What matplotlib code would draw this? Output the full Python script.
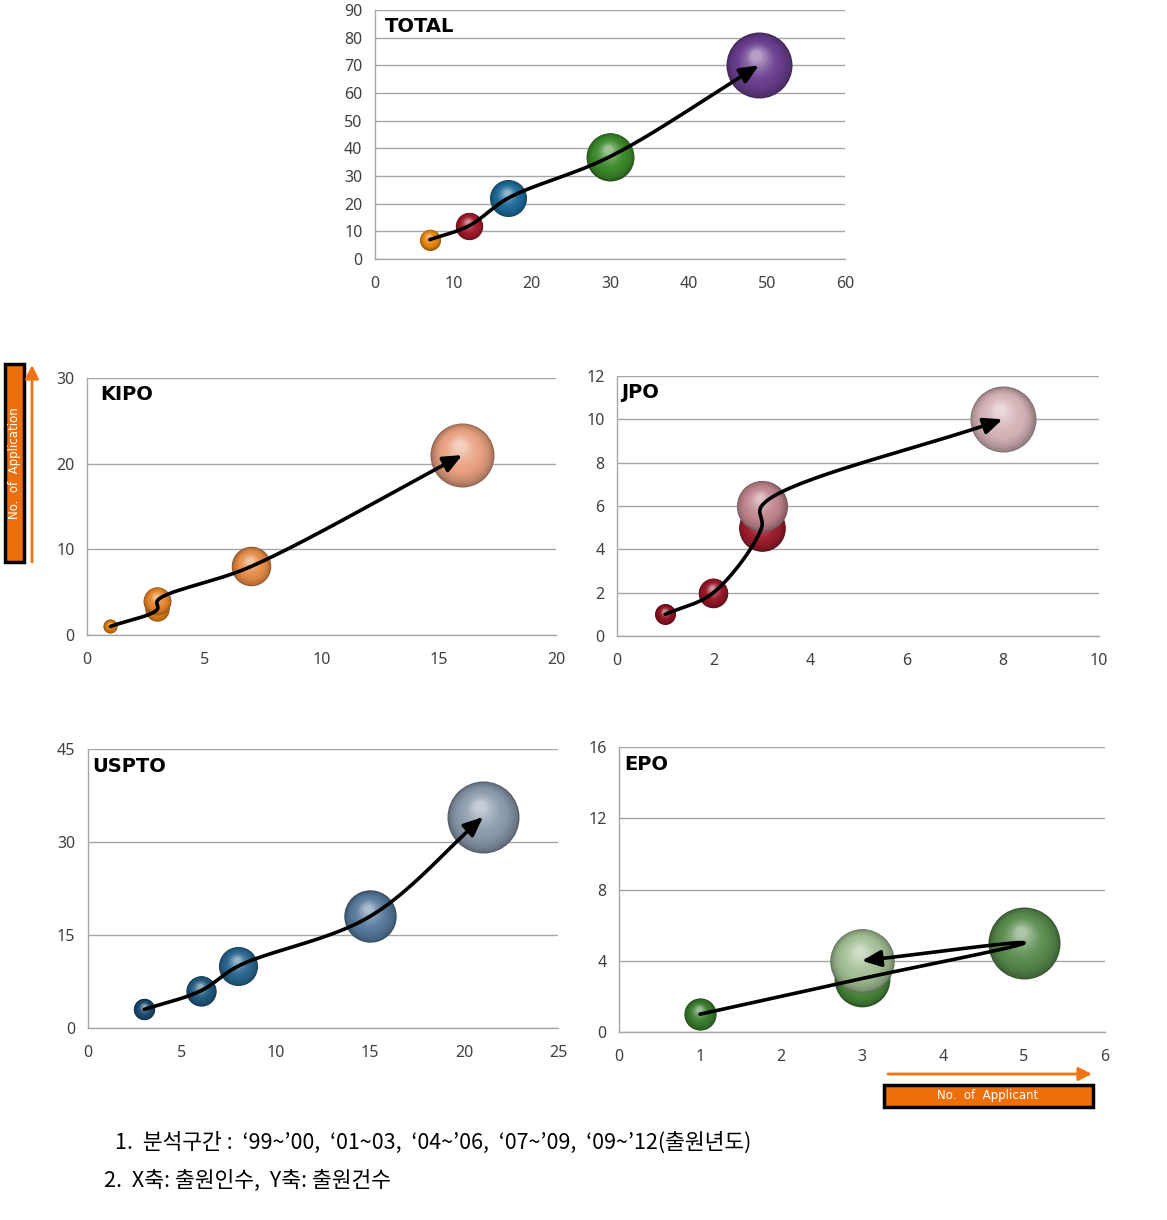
import numpy as np
import matplotlib
matplotlib.use("Agg")
import matplotlib.pyplot as plt
from matplotlib.colors import to_rgb
from matplotlib.transforms import offset_copy
from matplotlib.patches import FancyArrowPatch, Rectangle
from matplotlib.path import Path

plt.rcParams['font.family'] = ['Noto Sans CJK KR', 'DejaVu Sans']

# ---------------- data ----------------
total_x = [7, 12, 17, 30, 49]
total_y = [7, 12, 22, 37, 70]
total_colors = ['#E8860C', '#A31A2C', '#1E6A98', '#3D8A2C', '#6B3F8F']

kipo_x = [1, 3, 3, 7, 16]
kipo_y = [1, 3, 4, 8, 21]
kipo_colors = ['#D2760C', '#DC7C14', '#E4842A', '#E48C48', '#E8A080']

jpo_x = [1, 2, 3, 3, 8]
jpo_y = [1, 2, 5, 6, 10]
jpo_colors = ['#8E1020', '#961828', '#9E1E2E', '#C0868E', '#D4B2B6']

uspto_x = [3, 6, 8, 15, 21]
uspto_y = [3, 6, 10, 18, 34]
uspto_colors = ['#1A4A6C', '#225A80', '#2A6690', '#587A9C', '#8A9AAC']

epo_x = [1, 3, 5, 3]
epo_y = [1, 3, 5, 4]
epo_colors = ['#3A7A2E', '#4A8A3C', '#5A8C4E', '#A2BE94']

W, H = 1167, 1220
fig = plt.figure(figsize=(W / 100, H / 100), dpi=100)


def px_axes(l, r, t, b):
    return fig.add_axes([l / W, 1 - b / H, (r - l) / W, (b - t) / H])


def sphere(ax, x, y, R, color, z):
    base = np.array(to_rgb(color))
    dark = base * 0.6
    light = base + (1 - base) * 0.5
    N = 30
    for k in range(N):
        t = k / (N - 1)
        r = R * (1 - 0.85 * t)
        dx = -0.08 * R * t
        dy = 0.30 * R * t
        if t < 0.4:
            c = dark + (base - dark) * (t / 0.4) ** 0.5
        else:
            u = (t - 0.4) / 0.6
            c = base + (light - base) * u ** 1.5
        tr = offset_copy(ax.transData, fig=fig, x=dx, y=dy, units='points')
        ax.scatter([x], [y], s=(2 * r) ** 2, color=np.clip(c, 0, 1),
                   transform=tr, zorder=z + k * 0.001, linewidths=0,
                   clip_on=False)


def curve(ax, xs, ys):
    pts = ax.transData.transform(np.column_stack([xs, ys]).astype(float))
    P = np.vstack([2 * pts[0] - pts[1], pts, 2 * pts[-1] - pts[-2]])
    out = []
    alpha = 0.5
    for i in range(1, len(P) - 2):
        p0, p1, p2, p3 = P[i - 1], P[i], P[i + 1], P[i + 2]
        t0 = 0.0
        t1 = t0 + max(np.linalg.norm(p1 - p0), 1e-3) ** alpha
        t2 = t1 + max(np.linalg.norm(p2 - p1), 1e-3) ** alpha
        t3 = t2 + max(np.linalg.norm(p3 - p2), 1e-3) ** alpha
        for t in np.linspace(t1, t2, 40, endpoint=False):
            A1 = (t1 - t) / (t1 - t0) * p0 + (t - t0) / (t1 - t0) * p1
            A2 = (t2 - t) / (t2 - t1) * p1 + (t - t1) / (t2 - t1) * p2
            A3 = (t3 - t) / (t3 - t2) * p2 + (t - t2) / (t3 - t2) * p3
            B1 = (t2 - t) / (t2 - t0) * A1 + (t - t0) / (t2 - t0) * A2
            B2 = (t3 - t) / (t3 - t1) * A2 + (t - t1) / (t3 - t1) * A3
            C = (t2 - t) / (t2 - t1) * B1 + (t - t1) / (t2 - t1) * B2
            out.append(C)
    out.append(pts[-1])
    data = ax.transData.inverted().transform(np.array(out))
    arr = FancyArrowPatch(path=Path(data), arrowstyle='-|>,head_length=0.8,head_width=0.35',
                          mutation_scale=14, lw=2.6, color='black',
                          shrinkA=0, shrinkB=0, zorder=50)
    ax.add_patch(arr)


def panel(box, xs, ys, colors, xmax, xstep, ymax, ystep, title, Rmax, title_off):
    l, r, t, b = box
    ax = px_axes(l, r, t, b)
    ax.set_xlim(0, xmax)
    ax.set_ylim(0, ymax)
    ax.set_xticks(np.arange(0, xmax + 1e-9, xstep))
    ax.set_yticks(np.arange(0, ymax + 1e-9, ystep))
    ax.yaxis.grid(True, color='#A6A6A6', lw=1)
    ax.set_axisbelow(True)
    for s in ['top', 'right']:
        ax.spines[s].set_visible(False)
    for s in ['left', 'bottom']:
        ax.spines[s].set_color('#A6A6A6')
        ax.spines[s].set_linewidth(1)
    ax.tick_params(length=0, labelsize=11.5, colors='#404040')
    ax.tick_params(axis='y', pad=9)
    ax.tick_params(axis='x', pad=12.5)
    for lab in ax.get_xticklabels() + ax.get_yticklabels():
        lab.set_family(['Noto Sans', 'DejaVu Sans'])
    vmax = max(ys)
    Rpt = Rmax * 72 / 100
    for i, (x, y, c) in enumerate(zip(xs, ys, colors)):
        sphere(ax, x, y, Rpt * np.sqrt(y / vmax), c, 10 + i)
    curve(ax, xs, ys)
    ax.text(title_off[0] / (r - l), 1 - title_off[1] / (b - t), title,
            transform=ax.transAxes, fontsize=14, fontweight='bold',
            ha='left', va='center', color='black', zorder=60,
            family=['DejaVu Sans'])
    return ax


panel((375, 845, 10, 259), total_x, total_y, total_colors, 60, 10, 90, 10, 'TOTAL', 33, (10, 17))
panel((87, 556, 378, 635), kipo_x, kipo_y, kipo_colors, 20, 5, 30, 10, 'KIPO', 32, (13, 17))
panel((617, 1099, 376, 636), jpo_x, jpo_y, jpo_colors, 10, 2, 12, 2, 'JPO', 33, (4, 17))
panel((88, 558, 749, 1028), uspto_x, uspto_y, uspto_colors, 25, 5, 45, 15, 'USPTO', 36, (4, 17))
panel((619, 1105, 747, 1032), epo_x, epo_y, epo_colors, 6, 1, 16, 4, 'EPO', 36, (5, 17))

# overlay for annotations
ov = fig.add_axes([0, 0, 1, 1])
ov.set_xlim(0, W)
ov.set_ylim(H, 0)
ov.axis('off')
ov.patch.set_alpha(0)

orange = '#F07414'
ov.add_patch(Rectangle((5, 364), 19, 198, facecolor='#EC6F0C', edgecolor='black', lw=2.5))
ov.text(14.5, 463, 'No.  of  Application', rotation=90, ha='center', va='center',
        color='white', fontsize=8.5, family=['DejaVu Sans'])
ov.add_patch(FancyArrowPatch((32, 562), (32, 365), arrowstyle='-|>,head_length=0.8,head_width=0.4',
                             mutation_scale=10, lw=2, color=orange, shrinkA=0, shrinkB=0))

ov.add_patch(Rectangle((884, 1085), 209, 22, facecolor='#EC6F0C', edgecolor='black', lw=2.5))
ov.text(988, 1096, 'No.  of  Applicant', ha='center', va='center',
        color='white', fontsize=8.5, family=['DejaVu Sans'])
ov.add_patch(FancyArrowPatch((888, 1074), (1092, 1074), arrowstyle='-|>,head_length=0.8,head_width=0.4',
                             mutation_scale=10, lw=2, color=orange, shrinkA=0, shrinkB=0))

ov.text(115, 1143, '1.  분석구간 :  ‘99~’00,  ‘01~03,  ‘04~’06,  ‘07~’09,  ‘09~’12(출원년도)',
        ha='left', va='center', fontsize=15.5, style='italic', color='black')
ov.text(104, 1181, '2.  X축: 출원인수,  Y축: 출원건수',
        ha='left', va='center', fontsize=15.5, style='italic', color='black')

fig.savefig('out.png', dpi=100)
